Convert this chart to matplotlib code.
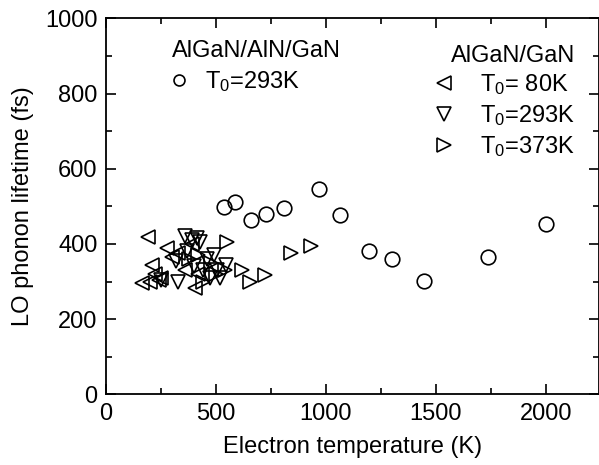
import numpy as np
import matplotlib.pyplot as plt
from matplotlib.ticker import MultipleLocator

plt.rcParams['font.family'] = ['Liberation Sans', 'DejaVu Sans']
plt.rcParams['mathtext.default'] = 'regular'

# AlGaN/AlN/GaN, T0=293K
aln_x = [537, 587, 660, 728, 810, 969, 1065, 1197, 1300, 1446, 1736, 1999]
aln_y = [498, 511, 463, 479, 495, 545, 476, 381, 360, 301, 364, 452]

# AlGaN/GaN, T0=80K
t80_x = [193, 165, 212, 225, 240, 405, 300, 330, 360, 420, 280, 250, 200, 390]
t80_y = [418, 295, 345, 320, 305, 282, 365, 375, 330, 320, 390, 310, 300, 400]

# AlGaN/GaN, T0=293K
t293_x = [330, 360, 390, 415, 430, 320, 460, 475, 520, 545, 400, 370, 440, 505, 490, 250]
t293_y = [300, 420, 410, 415, 405, 355, 360, 310, 310, 345, 340, 380, 330, 330, 370, 305]

# AlGaN/GaN, T0=373K
t373_x = [551, 620, 656, 724, 842, 933, 420, 480, 500, 540, 440, 380]
t373_y = [405, 330, 299, 318, 375, 394, 370, 350, 320, 330, 300, 360]

fs = 17

fig = plt.figure(figsize=(5.99, 4.65), dpi=100)
ax = fig.add_axes([0.1765, 0.152, 0.823, 0.8086])

mk = dict(linestyle='none', markerfacecolor='none', markeredgecolor='black',
          markeredgewidth=1.2, markersize=10.5)
h1, = ax.plot(aln_x, aln_y, marker='o', label='T$_0$=293K', **mk)
h2, = ax.plot(t80_x, t80_y, marker='<', label='T$_0$= 80K', **mk)
h3, = ax.plot(t293_x, t293_y, marker='v', label='T$_0$=293K', **mk)
h4, = ax.plot(t373_x, t373_y, marker='>', label='T$_0$=373K', **mk)

ax.set_xlim(0, 2240)
ax.set_ylim(0, 1000)
ax.xaxis.set_major_locator(MultipleLocator(500))
ax.xaxis.set_minor_locator(MultipleLocator(250))
ax.yaxis.set_major_locator(MultipleLocator(200))
ax.yaxis.set_minor_locator(MultipleLocator(100))
ax.tick_params(which='both', direction='in', top=True, right=True, width=1.2,
               labelsize=fs)
ax.tick_params(which='major', length=7, pad=6)
ax.tick_params(which='minor', length=4)
for s in ax.spines.values():
    s.set_linewidth(1.3)

ax.set_xlabel('Electron temperature (K)', fontsize=fs, labelpad=8)
ax.set_ylabel('LO phonon lifetime (fs)', fontsize=fs, labelpad=8)

leg1 = ax.legend(handles=[h1], title='AlGaN/AlN/GaN', loc='upper left',
                 bbox_to_anchor=(0.135, 0.943), frameon=False, fontsize=fs,
                 title_fontsize=fs, handlelength=0.6, handletextpad=0.8,
                 markerscale=0.75, labelspacing=0.3, alignment='left',
                 borderaxespad=0, borderpad=0)
ax.add_artist(leg1)
ax.legend(handles=[h2, h3, h4], title='AlGaN/GaN', loc='upper left',
          bbox_to_anchor=(0.668, 0.93), frameon=False, fontsize=fs,
          title_fontsize=fs, handlelength=0.8, handletextpad=1.12,
          markerscale=1.0, labelspacing=0.25, alignment='right',
          borderaxespad=0, borderpad=0)

fig.savefig('out.png')
